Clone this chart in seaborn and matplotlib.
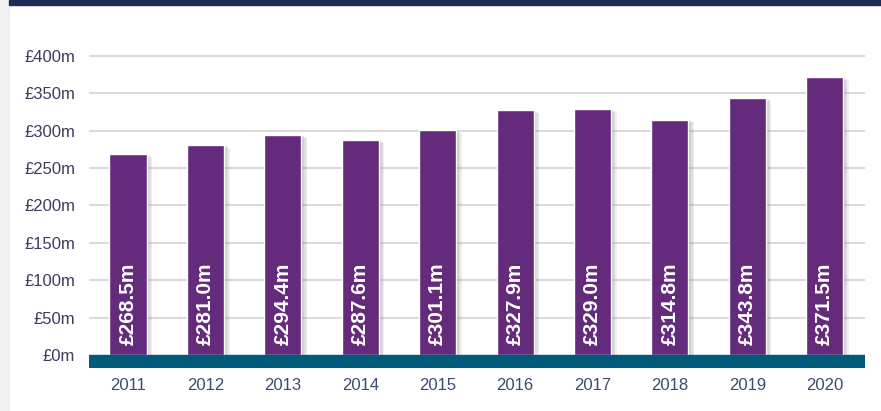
import pandas as pd
import matplotlib.pyplot as plt
import matplotlib.patheffects as pe
from matplotlib.patches import Rectangle
import seaborn as sns

# Data
years = ['2011', '2012', '2013', '2014', '2015', '2016', '2017', '2018', '2019', '2020']
values = [268.5, 281.0, 294.4, 287.6, 301.1, 327.9, 329.0, 314.8, 343.8, 371.5]
ytick_values = [0, 50, 100, 150, 200, 250, 300, 350, 400]

df = pd.DataFrame({'year': years, 'value': values})

sns.set_style("white")
plt.rcParams['font.family'] = ['Liberation Sans', 'DejaVu Sans']

fig = plt.figure(figsize=(8.81, 4.11), dpi=100)
ax = fig.add_axes([89 / 881, 43 / 411, 776 / 881, 312.5 / 411])

# Decorative frame: grey strip on the left, navy band on top
fig.patches.append(Rectangle((0, 0), 9 / 881, 1, transform=fig.transFigure,
                             color='#f0f1f3', zorder=0))
fig.patches.append(Rectangle((9 / 881, 1 - 5 / 411), 1, 5 / 411,
                             transform=fig.transFigure, color='#1c2a57', zorder=0))

sns.barplot(data=df, x='year', y='value', color='#642a7c', width=0.48,
            saturation=1, ax=ax, zorder=3)

# soft drop shadow to the right of each bar
shadow = [pe.SimplePatchShadow(offset=(o, -o / 2), shadow_rgbFace='#777777', alpha=0.12)
          for o in (4, 3, 2, 1)]
for bar in ax.patches:
    bar.set_path_effects(shadow + [pe.Normal()])

# Value labels inside bars
for i, v in enumerate(values):
    ax.text(i, 13, f"£{v:.1f}m", rotation=90, ha='center', va='bottom',
            color='white', fontsize=15, fontweight='bold', zorder=5)

# Teal base band below zero
ax.axhspan(-17.4, 0, color='#005a7a', zorder=4)

# Gridlines
for t in ytick_values[1:]:
    ax.axhline(t, color='#dadada', linewidth=1.5, zorder=1)

ax.set_xlim(-0.504, 9.52)
ax.set_ylim(-17.4, 400.5)
ax.set_yticks(ytick_values)
ax.set_yticklabels([f"£{t}m" for t in ytick_values])
ax.tick_params(axis='y', length=0, pad=10, labelsize=12, labelcolor='#3d3a5c')
ax.tick_params(axis='x', length=0, pad=7, labelsize=12, labelcolor='#3b4a70')
ax.set_xlabel('')
ax.set_ylabel('')
sns.despine(ax=ax, left=True, bottom=True)

fig.savefig('out.png', dpi=100)
